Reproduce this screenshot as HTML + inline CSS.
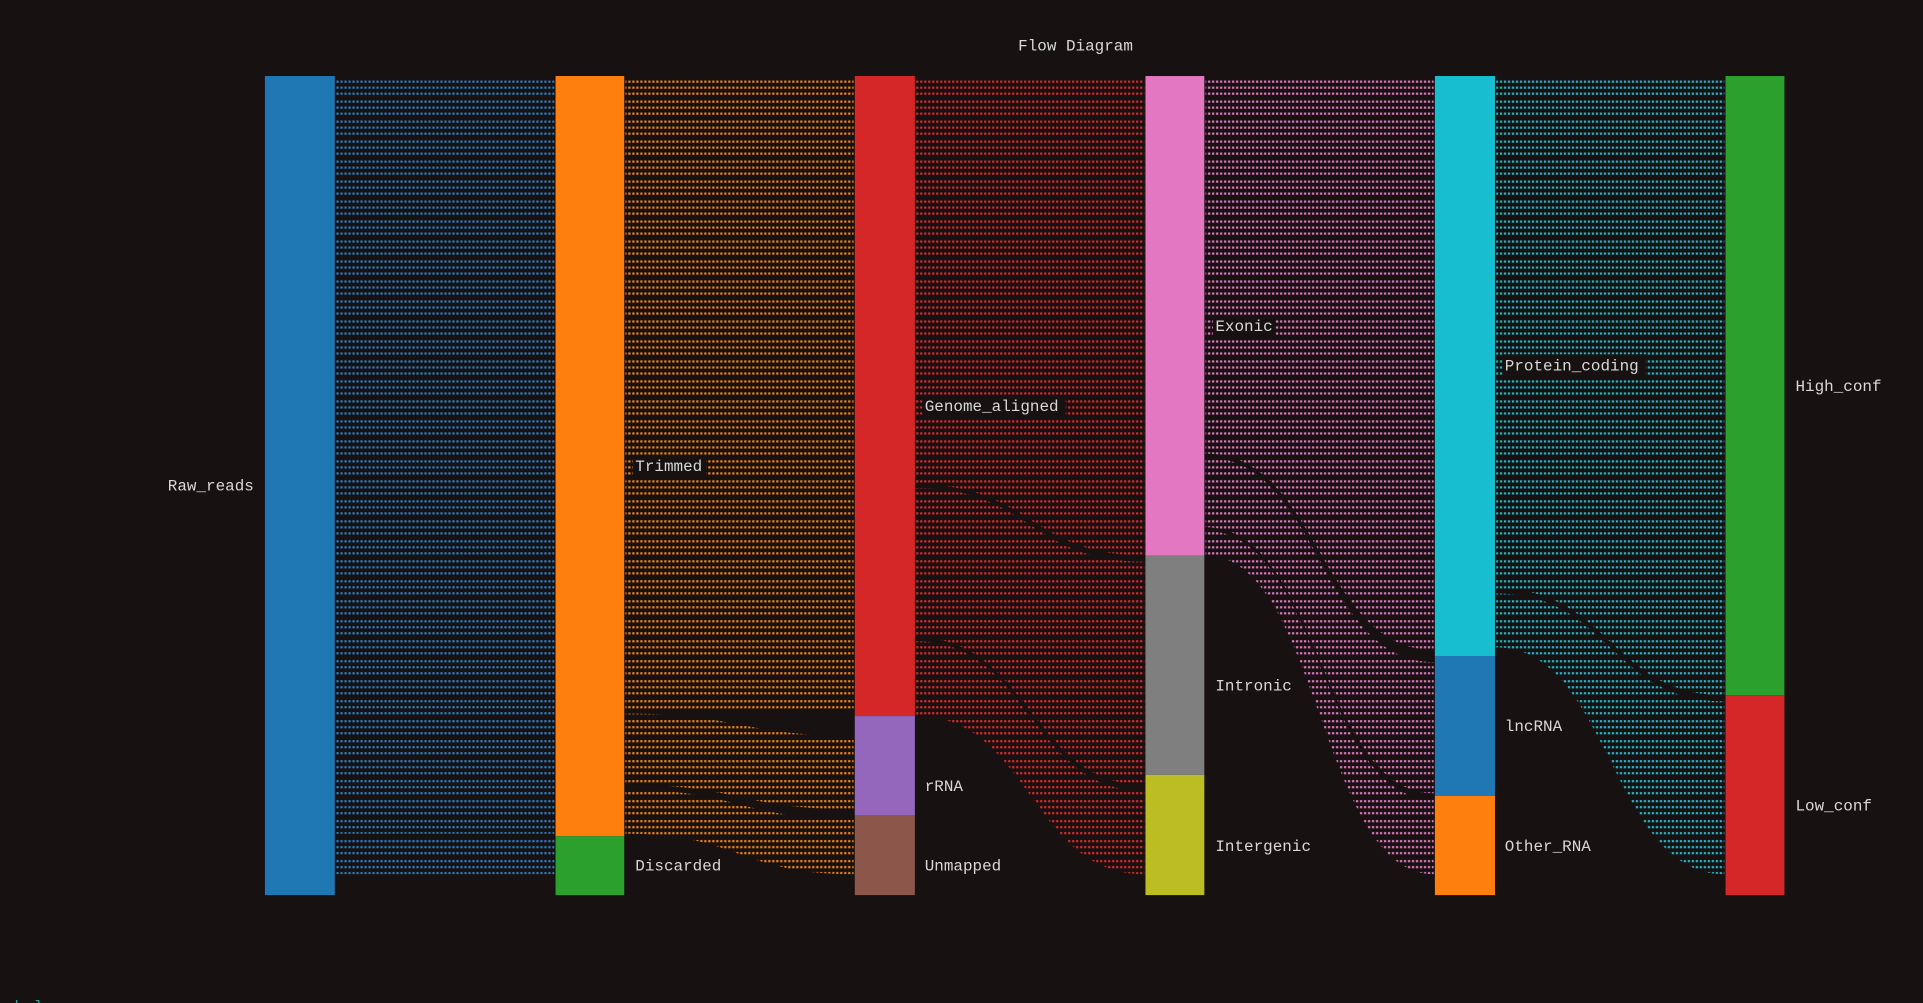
<!DOCTYPE html>
<html><head><meta charset="utf-8"><style>
html,body{margin:0;padding:0;background:#181112;}
svg{display:block}
text{font-family:"Liberation Mono","DejaVu Sans Mono",monospace;font-size:13px;fill:#d8d8d8}
</style></head><body>
<svg width="1923" height="1003" viewBox="0 0 1568 818" preserveAspectRatio="none" xmlns="http://www.w3.org/2000/svg">
<defs>
<pattern id="pb" patternUnits="userSpaceOnUse" width="3.26" height="16.3"><rect x="0.5" y="0.5" width="1.8" height="1.8" fill="#2b7fc0"/><rect x="0.5" y="5.4" width="1.8" height="1.8" fill="#2b7fc0"/><rect x="0.5" y="10.3" width="1.8" height="1.8" fill="#2b7fc0"/></pattern>
<pattern id="po" patternUnits="userSpaceOnUse" width="3.26" height="16.3"><rect x="0.5" y="0.5" width="1.8" height="1.8" fill="#f08418"/><rect x="0.5" y="5.4" width="1.8" height="1.8" fill="#f08418"/><rect x="0.5" y="10.3" width="1.8" height="1.8" fill="#f08418"/></pattern>
<pattern id="pr" patternUnits="userSpaceOnUse" width="3.26" height="16.3"><rect x="0.5" y="0.5" width="1.8" height="1.8" fill="#d42b2b"/><rect x="0.5" y="5.4" width="1.8" height="1.8" fill="#d42b2b"/><rect x="0.5" y="10.3" width="1.8" height="1.8" fill="#d42b2b"/></pattern>
<pattern id="pp" patternUnits="userSpaceOnUse" width="3.26" height="16.3"><rect x="0.5" y="0.5" width="1.8" height="1.8" fill="#e27ac2"/><rect x="0.5" y="5.4" width="1.8" height="1.8" fill="#e27ac2"/><rect x="0.5" y="10.3" width="1.8" height="1.8" fill="#e27ac2"/></pattern>
<pattern id="pc" patternUnits="userSpaceOnUse" width="3.26" height="16.3"><rect x="0.5" y="0.5" width="1.8" height="1.8" fill="#22bccc"/><rect x="0.5" y="5.4" width="1.8" height="1.8" fill="#22bccc"/><rect x="0.5" y="10.3" width="1.8" height="1.8" fill="#22bccc"/></pattern>
</defs>
<rect width="1568" height="818" fill="#181112"/>
<text x="877" y="41" text-anchor="middle">Flow Diagram</text>
<g>
<path d="M274,64 C363,64 363,64 452,64 L452,680 C363,680 363,680 274,680 Z" fill="url(#pb)"/>
<path d="M274,684 C363,684 363,684 452,684 L452,713 C363,713 363,713 274,713 Z" fill="url(#pb)"/>
<path d="M510,64 C603,64 603,64 696,64 L696,580 C603,580 603,578 510,578 Z" fill="url(#po)"/>
<path d="M510,582 C603,582 603,600 696,600 L696,660 C603,660 603,640 510,640 Z" fill="url(#po)"/>
<path d="M510,644 C603,644 603,668 696,668 L696,713 C603,713 603,680 510,680 Z" fill="url(#po)"/>
<path d="M747,64 C840,64 840,64 933,64 L933,453 C840,453 840,395 747,395 Z" fill="url(#pr)"/>
<path d="M747,398 C840,398 840,458 933,458 L933,640 C840,640 840,520 747,520 Z" fill="url(#pr)"/>
<path d="M747,523 C840,523 840,645 933,645 L933,713 C840,713 840,584 747,584 Z" fill="url(#pr)"/>
<path d="M983,64 C1076,64 1076,64 1169,64 L1169,530 C1076,530 1076,370 983,370 Z" fill="url(#pp)"/>
<path d="M983,373 C1076,373 1076,540 1169,540 L1169,647 C1076,647 1076,430 983,430 Z" fill="url(#pp)"/>
<path d="M983,433 C1076,433 1076,652 1169,652 L1169,713 C1076,713 1076,453 983,453 Z" fill="url(#pp)"/>
<path d="M1220,64 C1313,64 1313,64 1406,64 L1406,567 C1313,567 1313,480 1220,480 Z" fill="url(#pc)"/>
<path d="M1220,484 C1313,484 1313,572 1406,572 L1406,713 C1313,713 1313,528 1220,528 Z" fill="url(#pc)"/>
</g>
<rect x="216" y="62" width="57" height="668" fill="#1f77b4"/>
<rect x="453" y="62" width="56" height="620" fill="#ff7f0e"/>
<rect x="453" y="682" width="56" height="48" fill="#2ca02c"/>
<rect x="697" y="62" width="49" height="522" fill="#d62728"/>
<rect x="697" y="584" width="49" height="81" fill="#9467bd"/>
<rect x="697" y="665" width="49" height="65" fill="#8c564b"/>
<rect x="934" y="62" width="48" height="391" fill="#e377c2"/>
<rect x="934" y="453" width="48" height="179" fill="#7f7f7f"/>
<rect x="934" y="632" width="48" height="98" fill="#bcbd22"/>
<rect x="1170" y="62" width="49" height="473" fill="#17becf"/>
<rect x="1170" y="535" width="49" height="114" fill="#1f77b4"/>
<rect x="1170" y="649" width="49" height="81" fill="#ff7f0e"/>
<rect x="1407" y="62" width="48" height="505" fill="#2ca02c"/>
<rect x="1407" y="567" width="48" height="163" fill="#d62728"/>
<text x="207" y="400" text-anchor="end">Raw_reads</text>
<rect x="516" y="371" width="60" height="17" fill="#181112"/><text x="518" y="384">Trimmed</text>
<text x="518" y="710">Discarded</text>
<rect x="752" y="322" width="117" height="17" fill="#181112"/><text x="754" y="335">Genome_aligned</text>
<text x="754" y="645">rRNA</text>
<text x="754" y="710">Unmapped</text>
<rect x="989" y="257" width="51" height="17" fill="#181112"/><text x="991" y="270">Exonic</text>
<text x="991" y="563">Intronic</text>
<text x="991" y="694">Intergenic</text>
<rect x="1225" y="289" width="117" height="17" fill="#181112"/><text x="1227" y="302">Protein_coding</text>
<text x="1227" y="596">lncRNA</text>
<text x="1227" y="694">Other_RNA</text>
<text x="1464" y="319">High_conf</text>
<text x="1464" y="661">Low_conf</text>
<text x="4" y="825" style="fill:#2aa198">nbulo</text>
</svg>
</body></html>
